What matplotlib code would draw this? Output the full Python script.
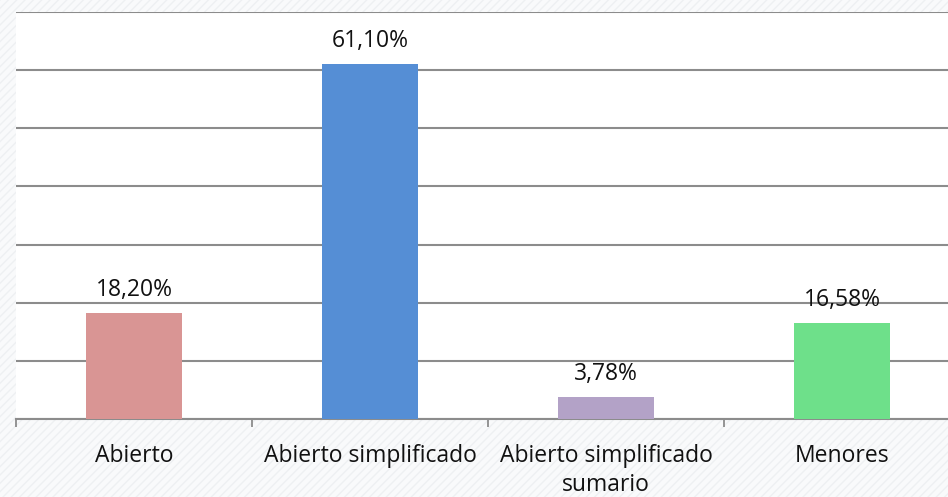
import matplotlib.pyplot as plt
import matplotlib.patches as mpatches
import numpy as np

categories = ['Abierto', 'Abierto simplificado', 'Abierto simplificado\nsumario', 'Menores']
values = [18.20, 61.10, 3.78, 16.58]
labels = ['18,20%', '61,10%', '3,78%', '16,58%']
colors = ['#d99594', '#558ed5', '#b3a2c7', '#6ee08a']

plt.rcParams['font.family'] = ['Open Sans', 'DejaVu Sans']

fig = plt.figure(figsize=(9.48, 4.97), dpi=100)
fig.patch.set_facecolor('#f9fafb')
# faint diagonal texture behind the plot area
bg = mpatches.Rectangle((0, 0), 1, 1, transform=fig.transFigure, facecolor='none',
                        edgecolor='#eef0f2', hatch='////', linewidth=0, zorder=-10)
fig.patches.append(bg)

ax = fig.add_axes([16 / 948, 1 - 419 / 497, 944 / 948, 407 / 497])
ax.set_facecolor('white')

x = np.arange(len(categories))
ax.bar(x, values, width=0.41, color=colors, zorder=3)
for xi, v, lab in zip(x, values, labels):
    ax.text(xi, v + 2.9, lab, ha='center', va='baseline', fontsize=16.5, color='#111111')

ax.set_xlim(-0.5, 3.5)
ax.set_ylim(0, 70)
ax.set_yticks(np.arange(0, 71, 10))
ax.yaxis.grid(True, color='#8c8c8c', linewidth=1.5)
ax.set_axisbelow(True)
ax.tick_params(axis='y', left=False, labelleft=False)

ax.set_xticks(np.arange(-0.5, 4, 1))
ax.set_xticklabels([])
ax.tick_params(axis='x', length=6, width=1.3, color='#8c8c8c')

# category names under the axis, one baseline per line
for xi, cat in zip(x, categories):
    for k, line in enumerate(cat.split('\n')):
        ax.annotate(line, xy=(xi, 0), xycoords=('data', 'axes fraction'),
                    xytext=(0, -31 - 21 * k), textcoords='offset points',
                    ha='center', va='baseline',
                    fontsize=16.5, color='#111111', annotation_clip=False)

for s in ['top', 'right', 'left']:
    ax.spines[s].set_visible(False)
ax.spines['bottom'].set_color('#8c8c8c')
ax.spines['bottom'].set_linewidth(1.5)

fig.savefig('out.png', dpi=100, facecolor=fig.get_facecolor())
